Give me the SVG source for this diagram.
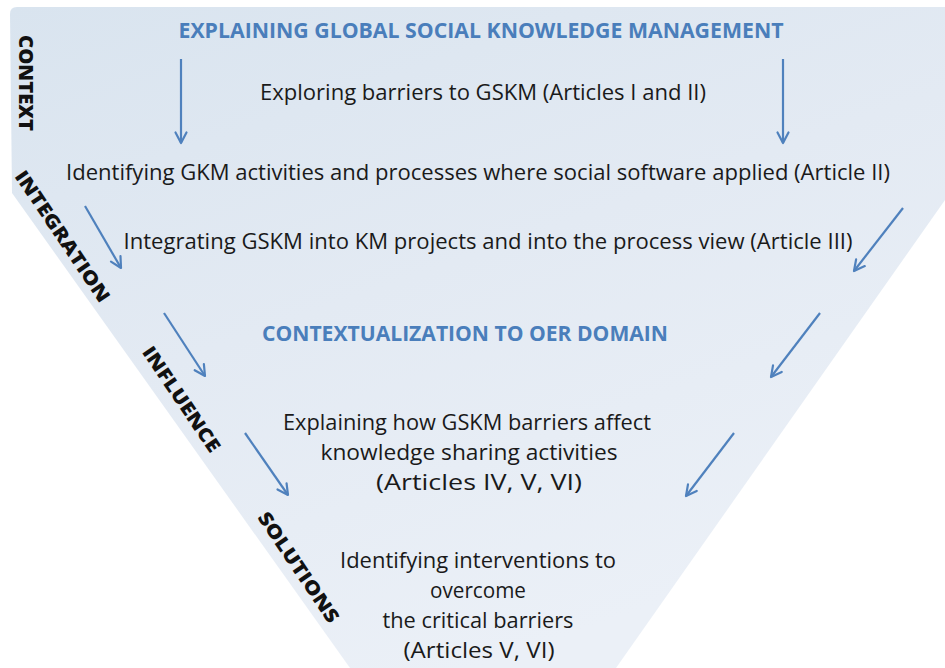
<svg xmlns="http://www.w3.org/2000/svg" width="945" height="668" viewBox="0 0 945 668">
  <defs>
    <linearGradient id="funnelFill" x1="0" y1="0" x2="0.5" y2="1">
      <stop offset="0" stop-color="#d9e4ef"/>
      <stop offset="0.5" stop-color="#e3eaf3"/>
      <stop offset="1" stop-color="#ebf0f7"/>
    </linearGradient>
    <marker id="head" viewBox="0 0 14 14" refX="12" refY="7" markerWidth="14" markerHeight="14" markerUnits="userSpaceOnUse" orient="auto">
      <path d="M1.5,1.5 L12,7 L1.5,12.5" fill="none" stroke="#4f81bd" stroke-width="2.2" stroke-linecap="round" stroke-linejoin="round"/>
    </marker>
    <style>
      .heading { font-family: "Open Sans", Lato, "Liberation Sans", sans-serif; font-weight: 700; font-size: 21px; fill: #4a7ebb; text-anchor: middle; }
      .body { font-family: "Open Sans", Lato, "Liberation Sans", sans-serif; font-size: 21px; fill: #1a1a1a; text-anchor: middle; }
      .phase { font-family: "Open Sans", Lato, "Liberation Sans", sans-serif; font-weight: 800; font-size: 19px; fill: #111111; text-anchor: middle; }
      .arrow { fill: none; stroke: #4f81bd; stroke-width: 2.2; marker-end: url(#head); }
    </style>
  </defs>

  <!-- funnel background -->
  <g id="funnel">
    <path d="M17,7 L945,7 L945,200 L616,668 L350,668 L12,193 L10,14 Q10,7 17,7 Z" fill="url(#funnelFill)"/>
  </g>

  <!-- phase labels along the left side -->
  <g id="phase-context">
    <text class="phase" transform="translate(19,83) rotate(90)" textLength="96" lengthAdjust="spacingAndGlyphs">CONTEXT</text>
  </g>
  <g id="phase-integration">
    <text class="phase" transform="translate(57,240) rotate(56)" textLength="154" lengthAdjust="spacingAndGlyphs">INTEGRATION</text>
  </g>
  <g id="phase-influence">
    <text class="phase" transform="translate(176,403) rotate(56)" textLength="123" lengthAdjust="spacingAndGlyphs">INFLUENCE</text>
  </g>
  <g id="phase-solutions">
    <text class="phase" transform="translate(293,571) rotate(56)" textLength="129" lengthAdjust="spacingAndGlyphs">SOLUTIONS</text>
  </g>

  <!-- stage texts -->
  <g id="title-gskm">
    <text class="heading" x="481" y="38" textLength="605" lengthAdjust="spacingAndGlyphs">EXPLAINING GLOBAL SOCIAL KNOWLEDGE MANAGEMENT</text>
  </g>
  <g id="stage-barriers">
    <text class="body" x="483" y="100" textLength="446" lengthAdjust="spacingAndGlyphs">Exploring barriers to GSKM (Articles I and II)</text>
  </g>
  <g id="stage-activities">
    <text class="body" x="478" y="180" textLength="824" lengthAdjust="spacingAndGlyphs">Identifying GKM activities and processes where social software applied (Article II)</text>
  </g>
  <g id="stage-integrating">
    <text class="body" x="488" y="249" textLength="729" lengthAdjust="spacingAndGlyphs">Integrating GSKM into KM projects and into the process view (Article III)</text>
  </g>
  <g id="title-oer">
    <text class="heading" x="465" y="341" textLength="406" lengthAdjust="spacingAndGlyphs">CONTEXTUALIZATION TO OER DOMAIN</text>
  </g>
  <g id="stage-influence">
    <text class="body" x="467" y="430" textLength="368" lengthAdjust="spacingAndGlyphs">Explaining how GSKM barriers affect</text>
    <text class="body" x="469" y="460" textLength="297" lengthAdjust="spacingAndGlyphs">knowledge sharing activities</text>
    <text class="body" x="479" y="490" textLength="206" lengthAdjust="spacingAndGlyphs">(Articles IV, V, VI)</text>
  </g>
  <g id="stage-solutions">
    <text class="body" x="478" y="568" textLength="276" lengthAdjust="spacingAndGlyphs">Identifying interventions to</text>
    <text class="body" x="478" y="598" textLength="96" lengthAdjust="spacingAndGlyphs">overcome</text>
    <text class="body" x="478" y="628" textLength="191" lengthAdjust="spacingAndGlyphs">the critical barriers</text>
    <text class="body" x="479" y="658" textLength="151" lengthAdjust="spacingAndGlyphs">(Articles V, VI)</text>
  </g>

  <!-- connectors -->
  <g id="connectors">
    <line class="arrow" x1="181" y1="59" x2="181" y2="143"/>
    <line class="arrow" x1="783" y1="59" x2="783" y2="143"/>
    <line class="arrow" x1="85" y1="206" x2="121" y2="268"/>
    <line class="arrow" x1="903" y1="208" x2="854" y2="271"/>
    <line class="arrow" x1="164" y1="313" x2="205" y2="376"/>
    <line class="arrow" x1="820" y1="313" x2="771" y2="377"/>
    <line class="arrow" x1="245" y1="433" x2="288" y2="495"/>
    <line class="arrow" x1="734" y1="433" x2="686" y2="496"/>
  </g>
</svg>
